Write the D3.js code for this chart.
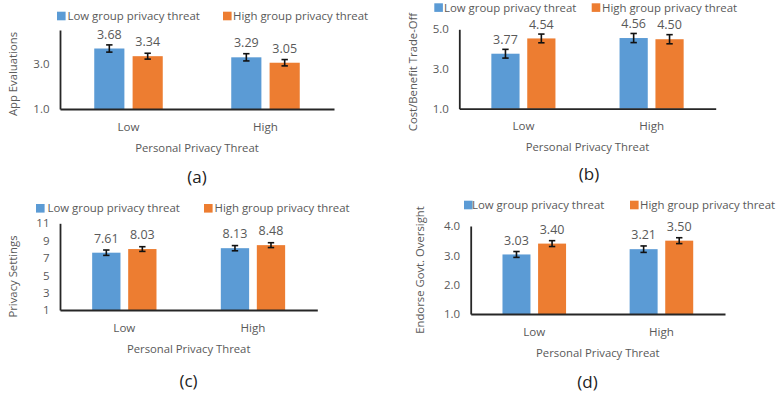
<!DOCTYPE html>
<html>
<head>
<meta charset="utf-8">
<script src="https://cdn.jsdelivr.net/npm/d3@7/dist/d3.min.js"></script>
<style>
  html, body { margin: 0; padding: 0; background: #fff; }
  svg { display: block; }
  text { font-family: "Open Sans", "Noto Sans", sans-serif; }
</style>
</head>
<body>
<svg id="chart" width="777" height="393"></svg>
<script>
// ---------- data ----------
const categories = ["Low", "High"];
const seriesNames = ["Low group privacy threat", "High group privacy threat"];
const panelLabels = ["(a)", "(b)", "(c)", "(d)"];
const yTitles = ["App Evaluations", "Cost/Benefit Trade-Off", "Privacy Settings", "Endorse Govt. Oversight"];
const xTitle = "Personal Privacy Threat";

// values indexed by personal privacy threat category [Low, High]
const appEvalLowGroup = [3.68, 3.29];
const appEvalHighGroup = [3.34, 3.05];
const appEvalLowGroupErr = [0.16, 0.16];
const appEvalHighGroupErr = [0.13, 0.14];

const tradeOffLowGroup = [3.77, 4.56];
const tradeOffHighGroup = [4.54, 4.50];
const tradeOffLowGroupErr = [0.22, 0.23];
const tradeOffHighGroupErr = [0.22, 0.23];

const settingsLowGroup = [7.61, 8.13];
const settingsHighGroup = [8.03, 8.48];
const settingsLowGroupErr = [0.31, 0.30];
const settingsHighGroupErr = [0.27, 0.28];

const oversightLowGroup = [3.03, 3.21];
const oversightHighGroup = [3.40, 3.50];
const oversightLowGroupErr = [0.10, 0.11];
const oversightHighGroupErr = [0.10, 0.10];

const appEvalTicks = [1, 3];
const tradeOffTicks = [1, 3, 5];
const settingsTicks = [1, 3, 5, 7, 9, 11];
const oversightTicks = [1, 2, 3, 4];

// ---------- style ----------
const colors = ["#5B9BD5", "#ED7D31"];
const textGray = "#595959";
const axisColor = "#262626";

const svg = d3.select("#chart");

const panels = [
  { vals: [appEvalLowGroup, appEvalHighGroup], errs: [appEvalLowGroupErr, appEvalHighGroupErr],
    ticks: appEvalTicks, domain: [1, 4.5], fmt: d3.format(".1f"),
    left: 60, right: 334, top: 30, bottom: 109,
    legendY: 16, legendSq: [57, 223], legendTx: [67.5, 233],
    titleX: 13, titleY: 74, panelX: 197, panelY: 177 },
  { vals: [tradeOffLowGroup, tradeOffHighGroup], errs: [tradeOffLowGroupErr, tradeOffHighGroupErr],
    ticks: tradeOffTicks, domain: [1, 5], fmt: d3.format(".1f"),
    left: 459.3, right: 715.7, top: 29.3, bottom: 108.7,
    legendY: 7.6, legendSq: [434.3, 591.7], legendTx: [444, 602],
    titleX: 413, titleY: 72, panelX: 589, panelY: 174 },
  { vals: [settingsLowGroup, settingsHighGroup], errs: [settingsLowGroupErr, settingsHighGroupErr],
    ticks: settingsTicks, domain: [1, 11], fmt: d3.format("d"),
    left: 60, right: 317.3, top: 223.3, bottom: 310,
    legendY: 208.3, legendSq: [36, 204], legendTx: [47.5, 214.5],
    titleX: 13.3, titleY: 276.5, panelX: 188.5, panelY: 381 },
  { vals: [oversightLowGroup, oversightHighGroup], errs: [oversightLowGroupErr, oversightHighGroupErr],
    ticks: oversightTicks, domain: [1, 4], fmt: d3.format(".1f"),
    left: 470.7, right: 725, top: 226, bottom: 314,
    legendY: 205, legendSq: [464, 630], legendTx: [472, 640],
    titleX: 420, titleY: 270, panelX: 587.5, panelY: 382.3 }
];

panels.forEach((p, pi) => {
  const g = svg.append("g");
  const x0 = d3.scaleBand().domain(categories).range([p.left, p.right]).paddingInner(0).paddingOuter(0);
  const bw = x0.bandwidth();
  const x1 = d3.scaleBand().domain(seriesNames).range([0.25 * bw, 0.75 * bw]).paddingInner(0.214).paddingOuter(0);
  const y = d3.scaleLinear().domain(p.domain).range([p.bottom, p.top]);

  // bars
  seriesNames.forEach((s, si) => {
    const data = categories.map((c, ci) => ({ c, v: p.vals[si][ci], e: p.errs[si][ci] }));
    const sg = g.append("g");
    sg.selectAll("rect").data(data).join("rect")
      .attr("x", d => x0(d.c) + x1(s))
      .attr("y", d => y(d.v))
      .attr("width", x1.bandwidth())
      .attr("height", d => y(p.domain[0]) - y(d.v))
      .attr("fill", colors[si]);
    // error bars
    const cx = d => x0(d.c) + x1(s) + x1.bandwidth() / 2;
    sg.selectAll("line.eb").data(data).join("line").attr("class", "eb")
      .attr("x1", cx).attr("x2", cx)
      .attr("y1", d => y(d.v - d.e)).attr("y2", d => y(d.v + d.e))
      .attr("stroke", "#111").attr("stroke-width", 1.6);
    sg.selectAll("line.capt").data(data).join("line").attr("class", "capt")
      .attr("x1", d => cx(d) - 3.2).attr("x2", d => cx(d) + 3.2)
      .attr("y1", d => y(d.v + d.e)).attr("y2", d => y(d.v + d.e))
      .attr("stroke", "#111").attr("stroke-width", 1.6);
    sg.selectAll("line.capb").data(data).join("line").attr("class", "capb")
      .attr("x1", d => cx(d) - 3.2).attr("x2", d => cx(d) + 3.2)
      .attr("y1", d => y(d.v - d.e)).attr("y2", d => y(d.v - d.e))
      .attr("stroke", "#111").attr("stroke-width", 1.6);
    // value labels
    sg.selectAll("text.val").data(data).join("text").attr("class", "val")
      .attr("x", cx)
      .attr("y", d => y(d.v) - 14.3)
      .attr("dy", "0.35em")
      .attr("text-anchor", "middle")
      .attr("font-size", 12.5)
      .attr("fill", textGray)
      .text(d => d.v.toFixed(2));
  });

  // y axis
  const ya = g.append("g").attr("transform", `translate(${p.left},0)`)
    .call(d3.axisLeft(y).tickValues(p.ticks).tickFormat(p.fmt).tickSize(0).tickSizeOuter(0).tickPadding(10.5));
  ya.select(".domain").attr("stroke", axisColor).attr("stroke-width", 1.8);
  ya.selectAll("text").attr("font-size", 11.5).attr("fill", textGray)
    .attr("font-family", "'Open Sans', sans-serif");

  // x axis
  const xa = g.append("g").attr("transform", `translate(0,${p.bottom})`)
    .call(d3.axisBottom(x0).tickSize(0).tickSizeOuter(0));
  xa.select(".domain").attr("stroke", axisColor).attr("stroke-width", 1.8);
  xa.selectAll("text").attr("y", 17.5).attr("dy", "0.35em")
    .attr("font-size", 11.6).attr("fill", textGray)
    .attr("font-family", "'Open Sans', sans-serif");

  // axis titles
  g.append("text")
    .attr("x", (p.left + p.right) / 2).attr("y", p.bottom + 38.7).attr("dy", "0.35em")
    .attr("text-anchor", "middle").attr("font-size", 11.3).attr("fill", textGray)
    .text(xTitle);
  g.append("text")
    .attr("transform", `translate(${p.titleX},${p.titleY}) rotate(-90)`)
    .attr("dy", "0.35em")
    .attr("text-anchor", "middle").attr("font-size", 11.3).attr("fill", textGray)
    .text(yTitles[pi]);

  // legend
  seriesNames.forEach((s, si) => {
    g.append("rect")
      .attr("x", p.legendSq[si]).attr("y", p.legendY - 4.3)
      .attr("width", 8.6).attr("height", 8.6).attr("fill", colors[si]);
    g.append("text")
      .attr("x", p.legendTx[si]).attr("y", p.legendY).attr("dy", "0.35em")
      .attr("font-size", 11.4).attr("fill", textGray)
      .text(s);
  });

  // panel label
  g.append("text")
    .attr("x", p.panelX).attr("y", p.panelY).attr("dy", "0.35em")
    .attr("text-anchor", "middle").attr("font-size", 17).attr("fill", "#222")
    .text(panelLabels[pi]);
});
</script>
</body>
</html>
